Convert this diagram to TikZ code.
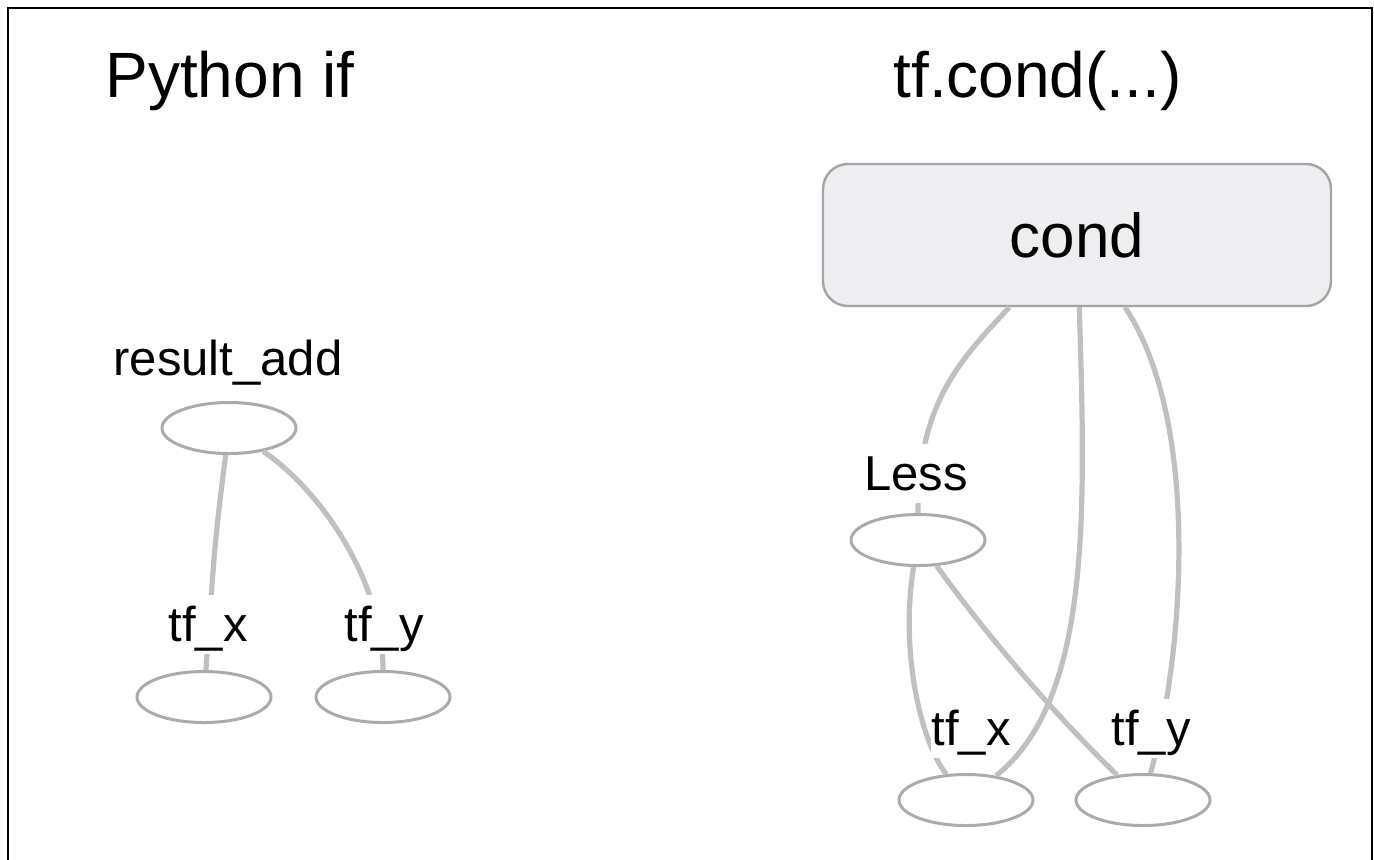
\documentclass[tikz,border=0pt]{standalone}
\usepackage{fontspec}
\setmainfont{Liberation Sans}
\usepackage{xcolor}
\usepackage{tikz}
\usetikzlibrary{shapes.geometric, positioning}

\definecolor{edgegray}{HTML}{C0C0C0}
\definecolor{ringgray}{HTML}{ABABAB}
\definecolor{boxfill}{HTML}{EEEEF0}
\definecolor{boxline}{HTML}{A4A4A4}

\begin{document}
\begin{tikzpicture}[
    x=0.5pt, y=-0.5pt,
    title/.style={anchor=base west, inner sep=0pt, font=\fontsize{32}{38}\selectfont},
    op/.style={ellipse, draw=ringgray, line width=1.5pt, fill=white,
               minimum width=67pt, minimum height=25.5pt, inner sep=0pt},
    lbl/.style={anchor=base, fill=white, inner xsep=0.5pt, inner ysep=0pt,
                text height=23pt, text depth=6.5pt, font=\fontsize{24.5}{28}\selectfont},
    block/.style={rectangle, rounded corners=12.5pt, draw=boxline, fill=boxfill,
                  line width=1.2pt, minimum width=254pt, minimum height=71pt,
                  font=\fontsize{31}{36}\selectfont},
    edge/.style={draw=edgegray, line width=2.6pt},
]
    \useasboundingbox (0,0) rectangle (1374,859);

    % Frame
    \draw[line width=1pt] (8,875) -- (8,8) -- (1372,8) -- (1372,875);

    % Titles
    \node[title] (pyif) at (105,97) {Python if};
    \node[title] (tfcond) at (893,97) {tf.cond(...)};

    % Python if graph
    \node[op] (lres) at (229,428) {};
    \node[op] (ltfx) at (204,697) {};
    \node[op] (ltfy) at (383,697) {};

    \draw[edge] (lres) .. controls (215,540) .. (ltfx);
    \draw[edge] (lres) .. controls (320,490) and (383,580) .. (ltfy);

    \node[lbl] (lresl) at (228,375) {result\_add};
    \node[lbl] (ltfxl) at (208,641) {tf\_x};
    \node[lbl] (ltfyl) at (384,641) {tf\_y};

    % tf.cond graph
    \node[block] (cond) at (1077,235) {cond};
    \node[op] (rless) at (918,540) {};
    \node[op] (rtfx) at (966,800) {};
    \node[op] (rtfy) at (1143,800) {};

    \draw[edge] (cond) .. controls (958,362) and (918,405) .. (rless);
    \draw[edge] (cond) .. controls (1086,520) and (1090,700) .. (rtfx);
    \draw[edge] (cond) .. controls (1200,420) and (1185,650) .. (rtfy);
    \draw[edge] (rless) .. controls (900,650) and (920,740) .. (rtfx);
    \draw[edge] (rless) .. controls (990,640) and (1060,720) .. (rtfy);

    \node[lbl] (rlessl) at (916,490) {Less};
    \node[lbl] (rtfxl) at (971,745) {tf\_x};
    \node[lbl] (rtfyl) at (1151,745) {tf\_y};
\end{tikzpicture}
\end{document}
